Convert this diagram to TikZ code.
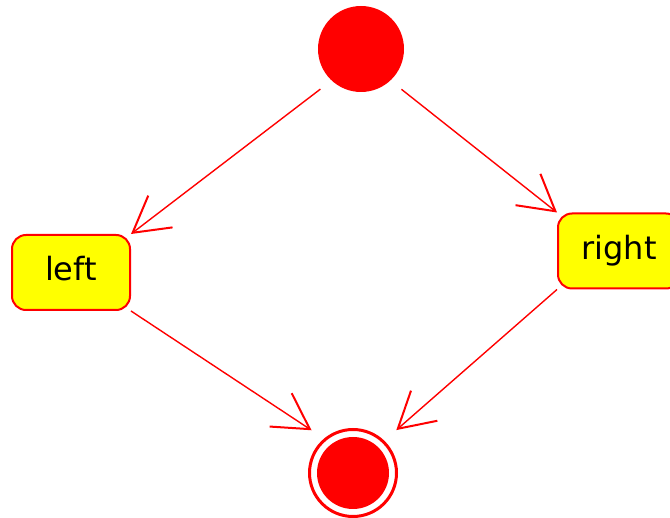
\documentclass[tikz,border=0pt]{standalone}
\usepackage{fontspec}
\setmainfont{DejaVu Sans}
\usetikzlibrary{arrows.meta}
\definecolor{stred}{RGB}{255,0,0}
\definecolor{styellow}{RGB}{255,255,0}
\tikzset{
  initial/.style={circle, fill=stred, inner sep=0pt, minimum size=86pt},
  final/.style={circle, draw=stred, line width=3pt, fill=white, inner sep=0pt, minimum size=87pt},
  statebox/.style={rectangle, rounded corners=14pt, draw=stred, line width=2pt,
    fill=styellow, inner sep=0pt, minimum width=118pt, minimum height=75pt,
    text height=24pt, text depth=7pt,
    font=\fontsize{32}{38}\selectfont, text=black},
  trans/.style={draw=stred, line width=1.4pt,
    -{Straight Barb[length=35pt, width=40pt, line width=2pt]}}
}
\begin{document}
\begin{tikzpicture}[x=1pt, y=-1pt]
  \clip (0,0) rectangle (670,518);
  \fill[white] (0,0) rectangle (670,518);

  % states
  \node[initial] (start) at (361,49) {};
  \node[statebox] (left) at (71,272.5) {left};
  \node[statebox, minimum width=122pt] (right) at (619,251) {right};
  \node[final] (end) at (353,473) {};
  \fill[stred] (end) circle (36);

  % transitions
  \draw[trans, shorten <=14pt] (start.227) -- (left.north east);
  \draw[trans, shorten <=14pt] (start.313) -- (right.north west);
  \draw[trans, shorten >=15pt] (left.south east) -- (end.130);
  \draw[trans, shorten >=16pt] (right.south west) -- (end.46);
\end{tikzpicture}
\end{document}
